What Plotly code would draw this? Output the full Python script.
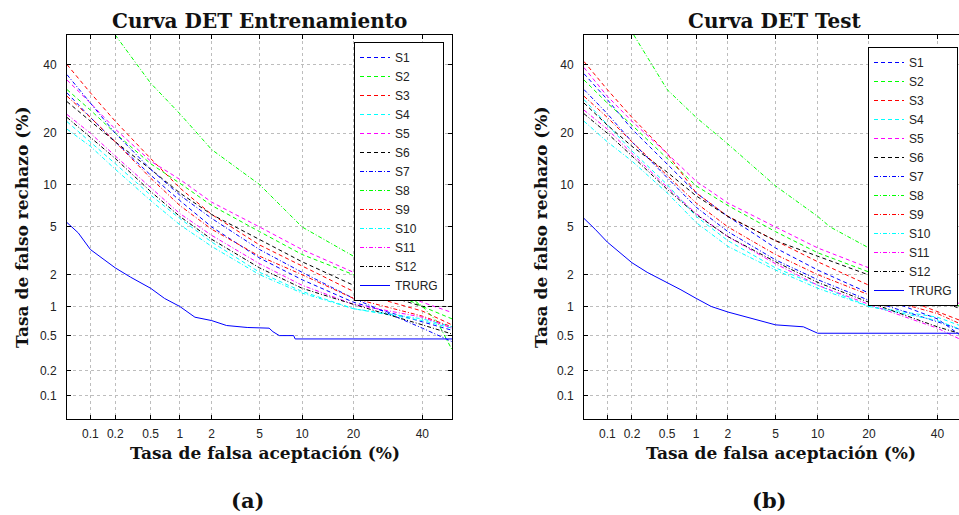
import plotly.graph_objects as go
from statistics import NormalDist

_ND = NormalDist()


def probit(p):
    return _ND.inv_cdf(p / 100.0)


W, H = 959, 515

# ---------------- data (percent) ----------------
SERIES = ["S1", "S2", "S3", "S4", "S5", "S6", "S7", "S8", "S9", "S10", "S11", "S12", "TRURG"]
FA_GRID = [0.05, 0.1, 0.2, 0.5, 1, 2, 5, 10, 20, 40, 50]

# Entrenamiento (training) FR values on FA_GRID
ENT_S1 = [31, 24, 18, 11.5, 7.8, 5.0, 2.8, 1.8, 1.1, 0.7, 0.57]
ENT_S2 = [32, 26, 20, 13.5, 10.2, 7.2, 4.6, 3.0, 2.0, 1.0, 0.75]
ENT_S3 = [40, 31, 23, 14.5, 9.5, 6.2, 3.6, 2.4, 1.4, 0.9, 0.65]
ENT_S4 = [22.9, 18, 13.5, 8.5, 5.8, 3.8, 2.1, 1.4, 0.95, 0.72, 0.6]
ENT_S5 = [35, 28, 21, 14, 10.8, 7.6, 5.0, 3.3, 2.1, 1.1, 0.87]
ENT_S6 = [28.4, 23, 18, 12.5, 8.8, 6.2, 4.0, 2.6, 1.6, 1.0, 1.0]
ENT_S7 = [36.7, 28, 20, 12.5, 8.5, 5.8, 3.3, 2.1, 1.2, 0.6, 0.43]
ENT_S9 = [30, 24, 18, 11, 7.2, 4.8, 2.9, 2.0, 1.2, 0.8, 0.62]
ENT_S10 = [21, 17, 12.5, 7.8, 5.2, 3.5, 2.0, 1.35, 0.95, 0.75, 0.62]
ENT_S11 = [24.8, 20, 15, 9.5, 6.3, 4.3, 2.5, 1.6, 1.05, 0.78, 0.6]
ENT_S12 = [24, 19, 14.5, 9, 6.0, 4.0, 2.3, 1.5, 1.05, 0.65, 0.52]
ENT_S8_FA = [0.2, 0.5, 1, 2, 5, 10, 20, 30, 40, 45, 50]
ENT_S8 = [50, 34, 25, 16.3, 10, 5, 2.9, 1.7, 1.0, 0.7, 0.35]
ENT_TRURG_FA = [0.05, 0.07, 0.1, 0.15, 0.2, 0.3, 0.5, 0.7, 1, 1.4, 2, 2.7, 4, 5.9, 6.3, 7, 8.8, 9, 50]
ENT_TRURG = [5.4, 4.5, 3.3, 2.7, 2.3, 1.9, 1.5, 1.2, 1.0, 0.78, 0.72, 0.64, 0.61, 0.6, 0.55, 0.5, 0.5, 0.46, 0.46]

# Test FR values on FA_GRID
TEST_S1 = [37, 29, 21, 13.5, 8.8, 6.0, 3.4, 2.2, 1.35, 0.75, 0.45]
TEST_S2 = [35, 28, 22, 14.5, 9.8, 7.2, 4.6, 3.1, 2.1, 1.2, 0.95]
TEST_S3 = [41, 32, 24, 15.5, 8.8, 6.0, 3.9, 2.6, 1.6, 0.9, 0.68]
TEST_S4 = [29, 22, 16, 10, 6.0, 3.9, 2.3, 1.6, 1.0, 0.78, 0.6]
TEST_S5 = [39, 30, 23, 15.5, 10.5, 7.5, 5.0, 3.4, 2.3, 1.3, 1.0]
TEST_S6 = [28, 22, 17, 12, 8.4, 6.0, 3.9, 2.9, 2.0, 1.15, 0.9]
TEST_S7 = [32, 25, 18, 11, 7.0, 4.6, 2.7, 1.8, 1.15, 0.7, 0.55]
TEST_S9 = [30, 24, 18, 11.5, 7.5, 5.0, 3.0, 2.0, 1.3, 0.85, 0.62]
TEST_S10 = [23, 18, 14, 8.8, 5.4, 3.5, 2.2, 1.5, 1.0, 0.72, 0.55]
TEST_S11 = [26, 21, 15.5, 9.6, 6.3, 4.2, 2.5, 1.6, 1.05, 0.6, 0.42]
TEST_S12 = [25, 20, 15, 9.3, 6.2, 4.2, 2.6, 1.7, 1.1, 0.62, 0.5]
TEST_S8_FA = [0.21, 0.5, 1, 1.54, 2, 5, 10, 12, 20, 30, 40, 50]
TEST_S8 = [50, 32, 24, 20, 17.5, 9.8, 6, 5, 3.4, 2.0, 1.3, 0.9]
TEST_TRURG_FA = [0.05, 0.07, 0.1, 0.15, 0.2, 0.3, 0.5, 0.7, 1, 1.4, 2, 3, 5, 8, 9, 10, 50]
TEST_TRURG = [5.8, 4.8, 3.8, 3.0, 2.55, 2.1, 1.7, 1.45, 1.2, 1.0, 0.88, 0.78, 0.65, 0.62, 0.57, 0.53, 0.53]

TICK_VALUES = [0.1, 0.2, 0.5, 1, 2, 5, 10, 20, 40]
TICK_LABELS = ["0.1", "0.2", "0.5", "1", "2", "5", "10", "20", "40"]

# ---------------- styles ----------------
COLORS = ["#0000ff", "#00ff00", "#ff0000", "#00ffff", "#ff00ff", "#000000",
          "#0000ff", "#00ff00", "#ff0000", "#00ffff", "#ff00ff", "#000000", "#0000ff"]
DASH = "4px,3px"
DASHDOT = "4px,2px,1px,2px"
DASHES = [DASH] * 6 + [DASHDOT] * 6 + ["solid"]

ent_data = [
    (FA_GRID, ENT_S1), (FA_GRID, ENT_S2), (FA_GRID, ENT_S3), (FA_GRID, ENT_S4),
    (FA_GRID, ENT_S5), (FA_GRID, ENT_S6), (FA_GRID, ENT_S7), (ENT_S8_FA, ENT_S8),
    (FA_GRID, ENT_S9), (FA_GRID, ENT_S10), (FA_GRID, ENT_S11), (FA_GRID, ENT_S12),
    (ENT_TRURG_FA, ENT_TRURG),
]
test_data = [
    (FA_GRID, TEST_S1), (FA_GRID, TEST_S2), (FA_GRID, TEST_S3), (FA_GRID, TEST_S4),
    (FA_GRID, TEST_S5), (FA_GRID, TEST_S6), (FA_GRID, TEST_S7), (TEST_S8_FA, TEST_S8),
    (FA_GRID, TEST_S9), (FA_GRID, TEST_S10), (FA_GRID, TEST_S11), (FA_GRID, TEST_S12),
    (TEST_TRURG_FA, TEST_TRURG),
]

fig = go.Figure()

for i, (fa, fr) in enumerate(ent_data):
    fig.add_trace(go.Scatter(
        x=[probit(v) for v in fa], y=[probit(v) for v in fr], mode="lines",
        name=SERIES[i], line=dict(color=COLORS[i], width=1, dash=DASHES[i]),
        xaxis="x", yaxis="y", legend="legend"))

for i, (fa, fr) in enumerate(test_data):
    fig.add_trace(go.Scatter(
        x=[probit(v) for v in fa], y=[probit(v) for v in fr], mode="lines",
        name=SERIES[i], line=dict(color=COLORS[i], width=1, dash=DASHES[i]),
        xaxis="x2", yaxis="y2", legend="legend2"))


def px(x):
    return x / W


def py(y):
    return 1 - y / H


tickvals = [probit(v) for v in TICK_VALUES]
LO = probit(0.05)

axis_common = dict(
    tickmode="array", tickvals=tickvals, ticktext=TICK_LABELS,
    showgrid=True, gridcolor="#bdbdbd", griddash="dot", gridwidth=1,
    zeroline=False, showline=True, linecolor="black", linewidth=1,
    ticks="inside", ticklen=4, tickcolor="black", tickwidth=1,
    tickfont=dict(family="Liberation Sans, Arial, sans-serif", size=12, color="#222222"),
)

ydom = [py(419), py(35)]

legend_common = dict(
    xanchor="right", yanchor="top",
    bgcolor="white", bordercolor="black", borderwidth=1,
    font=dict(family="Liberation Sans, Arial, sans-serif", size=12, color="#222222"),
    tracegroupgap=0, itemwidth=30,
)

fig.update_layout(
    width=W, height=H,
    margin=dict(l=0, r=0, t=0, b=0),
    paper_bgcolor="white", plot_bgcolor="white",
    xaxis=dict(domain=[px(67), px(452)], range=[LO, 0.0], anchor="y", mirror="ticks",
               ticklabelstandoff=4, **axis_common),
    yaxis=dict(domain=ydom, range=[LO, 0.0], anchor="x", mirror="ticks",
               ticklabelstandoff=7, **axis_common),
    xaxis2=dict(domain=[px(584), 1.0], range=[LO, -0.0675], anchor="y2", mirror="ticks",
                ticklabelstandoff=4, **axis_common),
    yaxis2=dict(domain=ydom, range=[LO, 0.0], anchor="x2", mirror=False,
                ticklabelstandoff=7, **axis_common),
    legend=dict(x=px(444), y=py(42), **legend_common),
    legend2=dict(x=px(958), y=py(47), **legend_common),
    showlegend=True,
)

serif_bold = dict(family="DejaVu Serif, serif", color="#111111")

ann = [
    ("<b>Curva DET Entrenamiento</b>", 259, 21, 20, 0),
    ("<b>Curva DET Test</b>", 775, 21, 20, 0),
    ("<b>Tasa de falsa aceptación (%)</b>", 265, 453, 17, 0),
    ("<b>Tasa de falsa aceptación (%)</b>", 781, 453, 17, 0),
    ("<b>Tasa de falso rechazo (%)</b>", 22, 228, 17, -90),
    ("<b>Tasa de falso rechazo (%)</b>", 541, 228, 17, -90),
    ("<b>(a)</b>", 247, 500, 21, 0),
    ("<b>(b)</b>", 769, 500, 21, 0),
]
for text, x, y, size, angle in ann:
    fig.add_annotation(text=text, x=px(x), y=py(y), xref="paper", yref="paper",
                       xanchor="center", yanchor="middle", showarrow=False,
                       textangle=angle, font=dict(size=size, **serif_bold))

fig.write_html("out.html")
